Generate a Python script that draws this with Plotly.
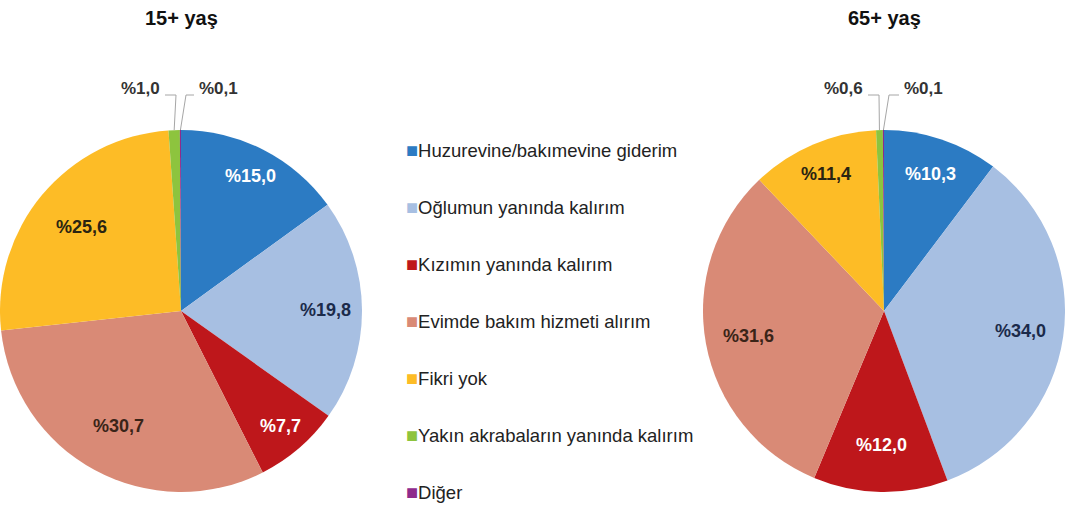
import math
import plotly.graph_objects as go

categories = [
    "Huzurevine/bakımevine giderim",
    "Oğlumun yanında kalırım",
    "Kızımın yanında kalırım",
    "Evimde bakım hizmeti alırım",
    "Fikri yok",
    "Yakın akrabaların yanında kalırım",
    "Diğer",
]
values_15 = [15.0, 19.8, 7.7, 30.7, 25.6, 1.0, 0.1]
values_65 = [10.3, 34.0, 12.0, 31.6, 11.4, 0.6, 0.1]
group_titles = ["15+ yaş", "65+ yaş"]

colors = ["#2C7BC3", "#A7BFE2", "#BE171B", "#D98A76", "#FDBC26", "#8DC43E", "#8E2B8C"]
text_colors = ["#FFFFFF", "#1B2A4A", "#FFFFFF", "#3A2418", "#2A2412", "#333333", "#333333"]
FONT = "Arial, Liberation Sans, sans-serif"

# label radius (fraction of pie radius) for inside labels, per pie
label_r = [[0.84, 0.80, 0.84, 0.72, 0.72], [0.80, 0.76, 0.74, 0.76, 0.82]]
# outside label horizontal offsets from pie centre (px), for the two tiny slices
out_dx = [[-16, 13], [-16, 15]]

def fmt(v):
    return "%" + f"{v:.1f}".replace(".", ",")

W, H = 1065, 507
D = 362
R = D / 2
cy = 311
ydom = [1 - (cy + R) / H, 1 - (cy - R) / H]
doms = [[0.0, D / W], [(W - D) / W, 1.0]]

fig = go.Figure()
for pi, (vals, dom) in enumerate([(values_15, doms[0]), (values_65, doms[1])]):
    fig.add_trace(go.Pie(
        labels=categories,
        values=vals,
        textinfo="none",
        marker=dict(colors=colors, line=dict(width=0)),
        sort=False,
        direction="clockwise",
        rotation=0,
        showlegend=False,
        domain=dict(x=dom, y=ydom),
        hovertemplate="%{label}: %{value}<extra></extra>",
    ))
    cx = (dom[0] + dom[1]) / 2 * W
    total = sum(vals)
    cum = 0.0
    for i, v in enumerate(vals):
        mid = (cum + v / 2) / total * 2 * math.pi
        cum += v
        if i < 5:
            r = label_r[pi][i] * R
            px = cx + r * math.sin(mid)
            py = cy - r * math.cos(mid)
            fig.add_annotation(
                text=fmt(v), x=px / W, y=1 - py / H, xref="paper", yref="paper",
                showarrow=False, xanchor="center", yanchor="middle",
                font=dict(family=FONT, size=18, color=text_colors[i], weight="bold"),
            )
        else:
            k = i - 5
            ex = cx + R * math.sin(mid)
            ey = cy - R * math.cos(mid)
            ty = 88
            side = -1 if out_dx[pi][k] < 0 else 1
            lx = cx + out_dx[pi][k]          # end of horizontal leader segment (text side)
            fig.add_annotation(
                text=fmt(v), x=(lx + side * 3) / W, y=1 - ty / H, xref="paper", yref="paper",
                showarrow=False, xanchor="right" if side < 0 else "left", yanchor="middle",
                font=dict(family=FONT, size=17, color="#333333", weight="bold"),
            )
            x1 = cx + side * 5
            ly = ty + 7
            fig.add_shape(
                type="path", xref="paper", yref="paper",
                path=f"M {lx/W},{1-ly/H} L {x1/W},{1-ly/H} L {ex/W},{1-ey/H}",
                line=dict(color="#A6A6A6", width=1),
            )

# titles
for t, dom in zip(group_titles, doms):
    fig.add_annotation(text=f"<b>{t}</b>", x=(dom[0] + dom[1]) / 2, y=1 - 18 / H,
                       xref="paper", yref="paper", showarrow=False,
                       xanchor="center", yanchor="middle",
                       font=dict(family=FONT, size=20, color="#111111"))

# legend built as text annotations
leg_x = 404 / W
for i, (c, col) in enumerate(zip(categories, colors)):
    ypix = 150 + i * 57
    fig.add_annotation(
        text=f"<span style='color:{col};font-size:20px'>■</span>{c}",
        x=leg_x, y=1 - ypix / H, xref="paper", yref="paper",
        xanchor="left", yanchor="middle", showarrow=False,
        font=dict(family=FONT, size=18.5, color="#222222"),
    )

fig.update_layout(
    width=W, height=H,
    margin=dict(l=0, r=0, t=0, b=0),
    paper_bgcolor="white", plot_bgcolor="white",
)
fig.write_html(
    "out.html",
    config={"displayModeBar": False},
    post_script="document.body.style.margin='0';document.body.style.overflow='hidden';",
)
